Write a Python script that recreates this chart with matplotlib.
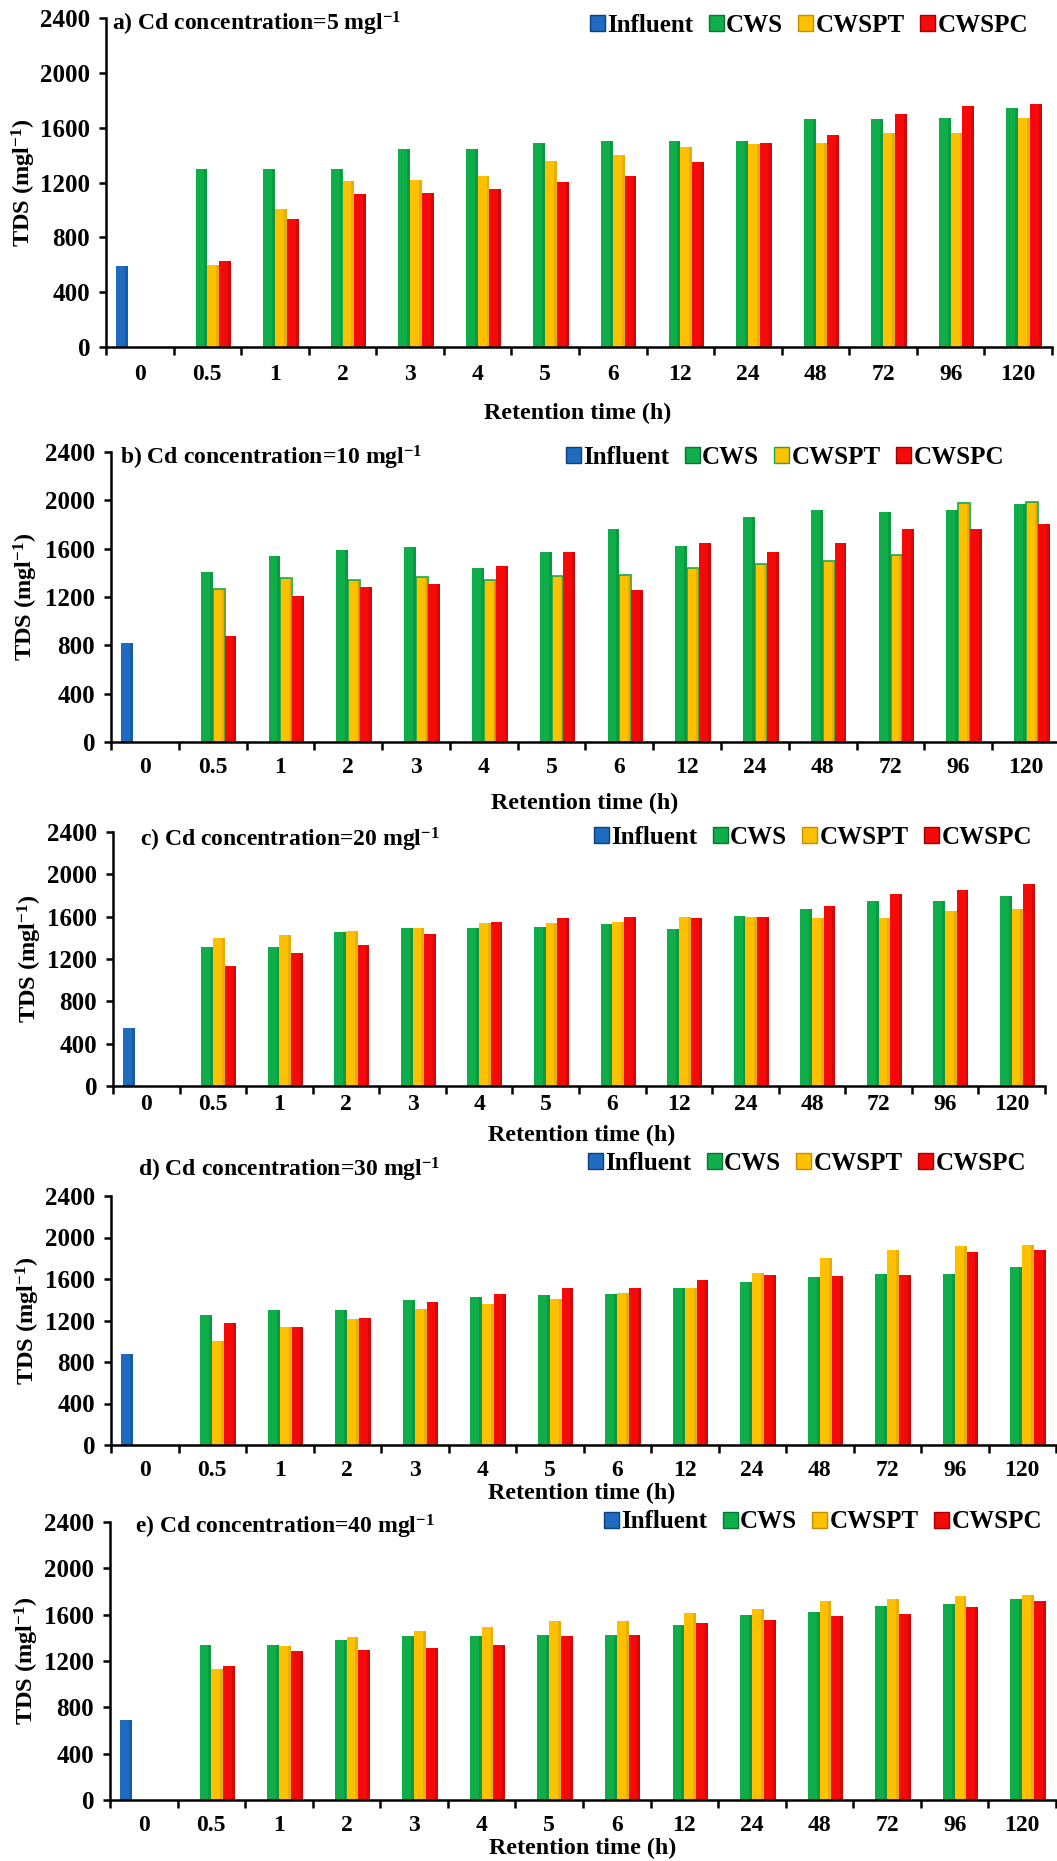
import numpy as np
import matplotlib.pyplot as plt
from matplotlib.patches import Patch

plt.rcParams['font.family'] = 'Liberation Serif'
plt.rcParams['font.weight'] = 'bold'
plt.rcParams['mathtext.fontset'] = 'custom'
plt.rcParams['mathtext.rm'] = 'Liberation Serif:bold'
plt.rcParams['mathtext.it'] = 'Liberation Serif:bold'
plt.rcParams['mathtext.bf'] = 'Liberation Serif:bold'

times = ['0', '0.5', '1', '2', '3', '4', '5', '6', '12', '24', '48', '72', '96', '120']
series = ['Influent', 'CWS', 'CWSPT', 'CWSPC']
cd_levels = ['a) Cd concentration=5 mgl$^{-1}$', 'b) Cd concentration=10 mgl$^{-1}$',
             'c) Cd concentration=20 mgl$^{-1}$', 'd) Cd concentration=30 mgl$^{-1}$',
             'e) Cd concentration=40 mgl$^{-1}$']

# TDS (mg/l), influent at t=0, effluent for t = 0.5 ... 120 h
influent_5 = 590
cws_5 = [1300, 1300, 1300, 1442, 1442, 1488, 1500, 1500, 1500, 1663, 1663, 1670, 1746]
cwspt_5 = [595, 1009, 1208, 1218, 1245, 1359, 1398, 1456, 1481, 1488, 1563, 1563, 1670]
cwspc_5 = [625, 936, 1116, 1123, 1150, 1201, 1245, 1349, 1488, 1546, 1697, 1755, 1772]

influent_10 = 820
cws_10 = [1403, 1540, 1589, 1617, 1441, 1570, 1760, 1622, 1858, 1924, 1900, 1924, 1968]
cwspt_10 = [1268, 1356, 1342, 1364, 1342, 1370, 1378, 1438, 1471, 1499, 1545, 1982, 1990]
cwspc_10 = [881, 1211, 1282, 1307, 1458, 1570, 1254, 1644, 1570, 1644, 1765, 1765, 1806]

influent_20 = 545
cws_20 = [1310, 1310, 1452, 1496, 1496, 1506, 1531, 1484, 1610, 1673, 1752, 1752, 1793]
cwspt_20 = [1399, 1427, 1462, 1496, 1537, 1537, 1553, 1594, 1594, 1588, 1588, 1657, 1673]
cwspc_20 = [1137, 1257, 1335, 1436, 1553, 1585, 1594, 1585, 1594, 1698, 1812, 1856, 1904]

influent_30 = 880
cws_30 = [1253, 1301, 1301, 1398, 1430, 1443, 1459, 1510, 1571, 1616, 1648, 1648, 1719]
cwspt_30 = [1006, 1141, 1211, 1311, 1359, 1404, 1462, 1510, 1661, 1806, 1880, 1918, 1928]
cwspc_30 = [1173, 1141, 1221, 1382, 1455, 1510, 1510, 1590, 1639, 1629, 1639, 1860, 1880]

influent_40 = 690
cws_40 = [1335, 1335, 1380, 1414, 1414, 1425, 1425, 1509, 1601, 1624, 1676, 1696, 1739]
cwspt_40 = [1135, 1328, 1408, 1463, 1494, 1549, 1549, 1618, 1653, 1716, 1739, 1759, 1770]
cwspc_40 = [1161, 1285, 1293, 1316, 1336, 1414, 1425, 1529, 1552, 1592, 1609, 1667, 1719]

colors = ['#1f6bbf', '#10ad4b', '#ffc000', '#f50a0a']
shades = ['#0d3f7a', '#07772f', '#c28f00', '#a00000']

W, H = 1057, 1861


def px_axes(fig, left, right, top, bottom):
    """Axes from pixel box (top/bottom measured from the top of the figure)."""
    return fig.add_axes([left / W, 1 - bottom / H, (right - left) / W, (bottom - top) / H])


def draw_bars(ax, pos, vals, w, color, shade, edge=None):
    ax.bar(pos, vals, w, color=color, linewidth=1.2 if edge else 0,
           edgecolor=edge if edge else color, zorder=2)
    # darker strip inside the right side gives the columns some depth
    ax.bar(pos + 0.5 * w - 0.25 * w, vals, 0.25 * w, align='edge', color=shade,
           alpha=0.35, linewidth=0, zorder=3)


def draw_panel(fig, box, influent, cws, cwspt, cwspc, title, title_xy, legend_xy,
               xlabel_xy, ylabel_x, tick_pad, pt_edge=None):
    left, right, top, bottom = box
    ax = px_axes(fig, left, right, top, bottom)
    x = np.arange(len(times))
    w = 0.175

    draw_bars(ax, x[:1] - 1.5 * w, [influent], w, colors[0], shades[0])
    draw_bars(ax, x[1:] - 0.5 * w, cws, w, colors[1], shades[1])
    draw_bars(ax, x[1:] + 0.5 * w, cwspt, w, colors[2], shades[2], edge=pt_edge)
    draw_bars(ax, x[1:] + 1.5 * w, cwspc, w, colors[3], shades[3])

    ax.set_xlim(-0.5, len(times) - 0.5)
    ax.set_ylim(0, 2400)
    ax.set_yticks(np.arange(0, 2401, 400))
    ax.set_xticks(np.arange(len(times) + 1) - 0.5)
    ax.set_xticklabels([])
    ax.set_xticks(x, minor=True)
    ax.set_xticklabels(times, minor=True)
    ax.tick_params(axis='x', which='major', length=6, width=1.8, direction='out')
    ax.tick_params(axis='x', which='minor', length=0, pad=tick_pad, labelsize=17)
    ax.tick_params(axis='y', length=5, width=1.8, pad=6.5, labelsize=18)
    for s in ['top', 'right']:
        ax.spines[s].set_visible(False)
    for s in ['left', 'bottom']:
        ax.spines[s].set_linewidth(1.8)
        ax.spines[s].set_zorder(5)

    fig.text(title_xy[0] / W, 1 - title_xy[1] / H, title, fontsize=17,
             fontweight='bold', ha='left', va='center')

    handles = []
    for i, name in enumerate(series):
        ec = pt_edge if (pt_edge and i == 2) else shades[i]
        handles.append(Patch(facecolor=colors[i], edgecolor=ec, linewidth=1, label=name))
    fig.legend(handles=handles, loc='center left', ncol=4, frameon=False,
               bbox_to_anchor=(legend_xy[0] / W, 1 - legend_xy[1] / H),
               borderpad=0, borderaxespad=0, handlelength=0.6, handleheight=0.6,
               handletextpad=0.1, columnspacing=0.6, prop={'size': 18, 'weight': 'bold'})

    fig.text(xlabel_xy[0] / W, 1 - xlabel_xy[1] / H, 'Retention time (h)', fontsize=17.3,
             fontweight='bold', ha='center', va='center')
    fig.text(ylabel_x / W, 1 - (top + bottom) / 2 / H, 'TDS (mgl$^{-1}$)', fontsize=17.5,
             fontweight='bold', ha='center', va='center', rotation=90)
    return ax


def main() -> None:
    fig = plt.figure(figsize=(W / 100, H / 100), dpi=100)

    draw_panel(fig, (106, 1052, 18, 347), influent_5, cws_5, cwspt_5, cwspc_5, cd_levels[0],
               (112, 24), (590, 25), (578, 413), 24, 12.5)
    draw_panel(fig, (111, 1060, 452, 742), influent_10, cws_10, cwspt_10, cwspc_10, cd_levels[1],
               (120, 458), (566, 457), (585, 803), 26, 11, pt_edge='#10ad4b')
    draw_panel(fig, (113, 1045, 832, 1086), influent_20, cws_20, cwspt_20, cwspc_20, cd_levels[2],
               (140, 840), (594, 837), (582, 1135), 30, 6)
    draw_panel(fig, (111, 1056, 1196, 1445), influent_30, cws_30, cwspt_30, cwspc_30, cd_levels[3],
               (138, 1170), (588, 1163), (582, 1493), 28, 10.5)
    draw_panel(fig, (110, 1056, 1522, 1800), influent_40, cws_40, cwspt_40, cwspc_40, cd_levels[4],
               (135, 1527), (604, 1522), (583, 1848), 27, 11)

    fig.savefig('out.png', dpi=100)


if __name__ == "__main__":
    main()
